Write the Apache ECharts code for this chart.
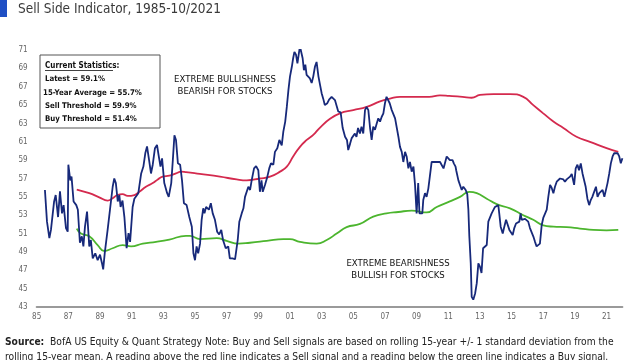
<!DOCTYPE html>
<html>
<head>
<meta charset="utf-8">
<script src="https://cdn.jsdelivr.net/npm/echarts@6/dist/echarts.min.js"></script>
<style>html,body{margin:0;padding:0;background:#fff}#c{width:640px;height:360px}</style>
</head>
<body>
<div id="c"></div>
<script>
// Sell Side Indicator (%), [year, value]
var sellSideIndicator = [
[1985.52,55.75],[1985.65,52.3],[1985.8,50.5],[1985.9,51.4],[1986.1,54.5],[1986.2,55.2],[1986.35,52.8],[1986.47,55.6],
[1986.6,53.2],[1986.7,54.1],[1986.85,51.6],[1986.96,51.2],[1987.0,58.5],[1987.12,56.8],[1987.2,57.2],[1987.33,54.5],
[1987.5,54.1],[1987.6,53.6],[1987.73,50.0],[1987.85,50.7],[1987.95,49.6],[1988.05,51.75],[1988.18,53.4],[1988.32,49.6],
[1988.42,50.3],[1988.54,48.3],[1988.7,48.85],[1988.85,48.1],[1989.0,48.7],[1989.12,47.8],[1989.2,47.1],[1989.3,48.9],
[1989.48,51.4],[1989.63,53.6],[1989.8,56.1],[1989.9,57.0],[1990.0,56.5],[1990.12,54.5],[1990.22,55.2],[1990.3,53.9],
[1990.42,54.6],[1990.54,52.8],[1990.68,49.4],[1990.8,51.05],[1990.9,50.1],[1991.06,53.9],[1991.17,54.8],[1991.27,54.6],
[1991.42,55.4],[1991.6,57.55],[1991.74,58.3],[1991.86,59.75],[1991.97,60.5],[1992.1,59.0],[1992.22,57.55],[1992.33,58.5],
[1992.47,60.3],[1992.6,60.65],[1992.7,59.55],[1992.82,58.3],[1992.92,59.2],[1993.06,56.5],[1993.24,55.4],[1993.34,55.0],
[1993.5,56.5],[1993.6,59.0],[1993.7,61.7],[1993.8,61.2],[1993.92,58.65],[1994.06,58.5],[1994.18,56.8],[1994.3,54.3],
[1994.47,54.1],[1994.64,52.8],[1994.8,51.75],[1994.9,48.85],[1995.0,48.1],[1995.1,49.6],[1995.2,48.85],[1995.32,49.9],
[1995.42,52.5],[1995.52,53.75],[1995.6,53.2],[1995.7,53.9],[1995.88,53.6],[1996.0,54.3],[1996.12,53.2],[1996.26,52.5],
[1996.4,51.2],[1996.53,50.9],[1996.66,51.4],[1996.77,50.3],[1996.94,49.4],[1997.1,49.6],[1997.2,48.3],[1997.37,48.3],
[1997.53,48.2],[1997.63,48.1],[1997.7,50.3],[1997.8,52.3],[1997.95,53.2],[1998.06,53.75],[1998.16,55.0],[1998.27,55.0],
[1998.37,56.1],[1998.48,55.75],[1998.58,56.8],[1998.73,58.1],[1998.86,58.35],[1999.0,57.9],[1999.1,55.55],[1999.2,56.8],
[1999.28,55.55],[1999.42,56.3],[1999.57,57.2],[1999.69,58.1],[1999.8,58.65],[1999.95,58.5],[2000.05,59.9],[2000.2,60.3],
[2000.33,61.2],[2000.42,61.3],[2000.48,60.6],[2000.58,62.1],[2000.7,63.2],[2000.8,64.8],[2000.9,66.6],[2001.0,68.1],
[2001.12,69.2],[2001.2,70.1],[2001.28,70.8],[2001.38,70.5],[2001.47,69.55],[2001.55,70.5],[2001.63,71.4],[2001.72,71.2],
[2001.8,70.1],[2001.88,68.8],[2001.97,69.4],[2002.05,68.3],[2002.16,68.3],[2002.26,67.9],[2002.37,67.4],[2002.47,68.1],
[2002.58,69.2],[2002.68,69.7],[2002.8,68.1],[2002.9,67.2],[2003.0,66.3],[2003.1,65.7],[2003.2,65.0],[2003.36,65.2],
[2003.47,65.6],[2003.63,65.9],[2003.84,65.55],[2004.05,64.3],[2004.2,64.2],[2004.33,62.5],[2004.48,61.55],[2004.6,61.2],
[2004.68,60.1],[2004.8,60.8],[2004.9,61.4],[2005.0,61.2],[2005.1,61.9],[2005.2,61.55],[2005.3,62.5],[2005.42,61.9],
[2005.52,62.65],[2005.63,61.9],[2005.74,64.45],[2005.84,64.8],[2005.95,64.45],[2006.06,62.5],[2006.16,61.2],[2006.26,62.65],
[2006.37,62.3],[2006.48,63.0],[2006.58,63.55],[2006.69,63.2],[2006.79,63.7],[2006.9,64.1],[2007.0,65.2],[2007.1,65.9],
[2007.2,66.1],[2007.3,65.2],[2007.43,64.45],[2007.53,64.3],[2007.64,63.55],[2007.74,63.4],[2007.85,61.55],[2007.95,60.45],
[2008.06,59.9],[2008.16,58.8],[2008.27,59.9],[2008.37,59.4],[2008.48,58.1],[2008.58,58.8],[2008.69,57.75],[2008.8,58.3],
[2008.9,56.3],[2009.0,53.2],[2009.1,56.5],[2009.18,53.2],[2009.27,53.3],[2009.36,53.2],[2009.42,54.65],[2009.53,55.4],
[2009.63,55.0],[2009.74,55.9],[2009.84,56.1],[2009.95,58.8],[2010.05,58.9],[2010.27,58.8],[2010.48,58.8],[2010.58,58.65],
[2010.7,58.1],[2010.8,58.2],[2010.9,59.4],[2011.0,59.4],[2011.1,59.0],[2011.27,59.0],[2011.35,58.65],[2011.46,58.3],
[2011.5,57.9],[2011.64,56.8],[2011.74,56.3],[2011.85,55.75],[2011.95,56.1],[2012.1,55.75],[2012.2,55.3],[2012.27,53.6],
[2012.33,50.7],[2012.42,47.75],[2012.48,44.1],[2012.58,43.8],[2012.7,44.5],[2012.8,45.6],[2012.9,47.75],[2013.0,47.4],
[2013.1,46.7],[2013.2,49.4],[2013.32,49.6],[2013.43,49.75],[2013.53,52.3],[2013.64,52.5],[2013.74,53.2],[2013.85,53.4],
[2013.95,53.9],[2014.06,54.1],[2014.16,54.1],[2014.22,53.2],[2014.31,51.75],[2014.44,51.0],[2014.52,51.6],[2014.65,52.5],
[2014.76,52.4],[2014.86,51.4],[2014.97,51.6],[2015.07,50.85],[2015.17,51.6],[2015.28,52.1],[2015.38,52.0],[2015.49,52.3],
[2015.57,53.2],[2015.64,52.5],[2015.74,52.7],[2015.85,52.6],[2015.95,52.8],[2016.05,52.3],[2016.16,51.6],[2016.27,51.5],
[2016.37,50.7],[2016.48,50.1],[2016.58,49.6],[2016.68,49.7],[2016.79,49.9],[2016.9,51.9],[2017.0,52.7],[2017.1,52.8],
[2017.22,53.6],[2017.32,55.0],[2017.43,56.3],[2017.53,56.0],[2017.64,55.4],[2017.74,56.1],[2017.85,56.65],[2018.06,57.0],
[2018.27,56.9],[2018.37,56.65],[2018.48,56.9],[2018.69,57.2],[2018.8,57.5],[2018.95,56.3],[2019.05,58.1],[2019.16,58.5],
[2019.26,57.9],[2019.37,58.65],[2019.48,57.55],[2019.58,57.4],[2019.68,56.1],[2019.79,54.8],[2019.9,54.1],[2020.0,54.65],
[2020.1,55.0],[2020.2,55.0],[2020.33,56.1],[2020.43,55.0],[2020.54,55.4],[2020.65,55.3],[2020.75,55.75],[2020.86,55.0],
[2020.96,55.1],[2021.06,56.5],[2021.17,57.55],[2021.27,58.65],[2021.38,59.4],[2021.48,59.75],[2021.58,59.6],[2021.7,59.75],
[2021.8,59.4],[2021.9,58.65],[2022.0,59.2]
];
// Sell threshold (rolling 15y mean + 1 sd)
var sellThreshold = [
[1987.53,55.8],[1988.32,55.4],[1988.95,54.95],[1989.48,54.6],[1989.8,54.85],[1990.1,55.2],[1990.42,55.3],[1990.75,55.1],
[1991.17,55.2],[1991.48,55.55],[1991.9,56.1],[1992.33,56.5],[1992.65,56.9],[1992.96,57.2],[1993.38,57.3],[1993.8,57.55],
[1994.12,57.75],[1994.43,57.7],[1995.3,57.5],[1996.58,57.2],[1997.63,56.9],[1998.27,56.8],[1999.1,57.0],[1999.74,57.2],
[2000.37,57.75],[2000.8,58.3],[2001.2,59.4],[2001.63,60.45],[2002.06,61.2],[2002.47,61.75],[2002.9,62.55],[2003.53,63.5],
[2004.16,64.1],[2005.0,64.45],[2005.85,64.8],[2006.69,65.4],[2007.32,65.7],[2007.95,65.9],[2008.8,65.9],[2009.8,65.9],
[2010.47,66.05],[2011.06,66.0],[2011.9,65.9],[2012.48,65.8],[2013.0,66.1],[2013.85,66.2],[2014.9,66.2],[2015.74,65.9],
[2016.37,65.0],[2017.0,64.1],[2017.64,63.2],[2018.27,62.5],[2019.1,61.55],[2019.95,61.0],[2021.0,60.3],[2021.74,59.9]
];
// Buy threshold (rolling 15y mean - 1 sd)
var buyThreshold = [
[1987.53,51.55],[1987.8,51.0],[1988.32,50.7],[1988.85,49.75],[1989.27,49.1],[1989.8,49.4],[1990.43,49.75],[1990.96,49.6],
[1991.7,49.9],[1992.54,50.1],[1993.38,50.35],[1994.43,50.75],[1994.68,50.75],[1995.32,50.4],[1996.37,50.5],[1997.0,50.2],
[1997.74,49.9],[1998.47,50.0],[1999.53,50.2],[2000.58,50.4],[2001.0,50.4],[2001.63,50.1],[2002.69,49.9],[2003.32,50.3],
[2003.95,51.0],[2004.58,51.7],[2005.42,52.05],[2006.26,52.85],[2007.1,53.2],[2007.84,53.35],[2008.7,53.5],[2009.64,53.3],
[2010.27,53.9],[2011.1,54.5],[2011.74,55.0],[2012.33,55.55],[2012.8,55.4],[2013.43,54.8],[2014.06,54.2],[2014.9,53.75],
[2015.74,53.0],[2016.37,52.5],[2017.0,51.9],[2017.64,51.75],[2018.48,51.7],[2019.32,51.55],[2020.16,51.4],[2021.0,51.35],
[2021.74,51.4]
];
var titleText = 'Sell Side Indicator, 1985-10/2021';
var statsLines = ['Latest = 59.1%', '15-Year Average = 55.7%', 'Sell Threshold = 59.9%', 'Buy Threshold = 51.4%'];
var noteTop = ['EXTREME BULLISHNESS', 'BEARISH FOR STOCKS'];
var noteBottom = ['EXTREME BEARISHNESS', 'BULLISH FOR STOCKS'];
var sourceLine1 = 'BofA US Equity & Quant Strategy Note: Buy and Sell signals are based on rolling 15-year +/- 1 standard deviation from the';
var sourceLine2 = 'rolling 15-year mean. A reading above the red line indicates a Sell signal and a reading below the green line indicates a Buy signal.';

var FONT = '"Liberation Sans Narrow","DejaVu Sans Condensed","Liberation Sans",sans-serif';
var chart = echarts.init(document.getElementById('c'));
var g = [
  {type:'rect', shape:{x:0,y:0,width:7,height:17}, style:{fill:'#1f4fc4'}},
  {type:'text', x:18, y:9, style:{text:titleText, font:'13.5px '+FONT, fill:'#3a3a3a', textVerticalAlign:'middle'}},
  {type:'rect', shape:{x:40,y:55,width:120,height:73}, style:{fill:'#fff', stroke:'#555', lineWidth:1}},
  {type:'text', x:45, y:66, style:{text:'Current Statistics:', font:'bold 8px '+FONT, fill:'#111', textVerticalAlign:'middle'}},
  {type:'line', shape:{x1:45,y1:70.5,x2:113,y2:70.5}, style:{stroke:'#111', lineWidth:0.8}},
  {type:'text', x:225, y:80, style:{text:noteTop[0], font:'9.5px '+FONT, fill:'#111', textAlign:'center', textVerticalAlign:'middle'}},
  {type:'text', x:225, y:92, style:{text:noteTop[1], font:'9.5px '+FONT, fill:'#111', textAlign:'center', textVerticalAlign:'middle'}},
  {type:'text', x:398, y:264, style:{text:noteBottom[0], font:'9.5px '+FONT, fill:'#111', textAlign:'center', textVerticalAlign:'middle'}},
  {type:'text', x:398, y:276, style:{text:noteBottom[1], font:'9.5px '+FONT, fill:'#111', textAlign:'center', textVerticalAlign:'middle'}},
  {type:'text', x:5, y:342, style:{text:'{b|Source:}  '+sourceLine1, font:'10.2px '+FONT, fill:'#222', textVerticalAlign:'middle', rich:{b:{fontWeight:'bold', fontSize:10.2, fontFamily:FONT}}}},
  {type:'text', x:5, y:357, style:{text:sourceLine2, font:'10.2px '+FONT, fill:'#222', textVerticalAlign:'middle'}}
];
var sy = [79, 92.7, 105.7, 119];
var sx = [45, 43, 45, 45];
statsLines.forEach(function(t,i){
  g.push({type:'text', x:sx[i], y:sy[i], style:{text:t, font:'bold 7.8px '+FONT, fill:'#111', textVerticalAlign:'middle'}});
});

chart.setOption({
  animation:false,
  backgroundColor:'#fff',
  grid:{left:36.7, right:17.6, top:50, bottom:53},
  xAxis:{type:'value', min:1985, max:2022, interval:2,
    axisLine:{show:true, lineStyle:{color:'#9a9a9a', width:2}},
    axisTick:{show:false}, splitLine:{show:false},
    axisLabel:{fontSize:8, color:'#666', margin:6, fontFamily:FONT,
      formatter:function(v){ if (v>2021.5) return ''; return String(Math.round(v)%100).padStart(2,'0'); }}},
  yAxis:{type:'value', min:43, max:71, interval:2,
    axisLine:{show:false}, axisTick:{show:false}, splitLine:{show:false},
    axisLabel:{fontSize:8, color:'#666', margin:9, fontFamily:FONT}},
  series:[
    {type:'line', data:sellThreshold, showSymbol:false, smooth:true, lineStyle:{color:'#d42a4e', width:1.8}, z:2},
    {type:'line', data:buyThreshold, showSymbol:false, smooth:true, lineStyle:{color:'#4cb52e', width:1.8}, z:2},
    {type:'line', data:sellSideIndicator, showSymbol:false, lineStyle:{color:'#17297a', width:1.8}, z:3}
  ],
  graphic:g
});
</script>
</body>
</html>
